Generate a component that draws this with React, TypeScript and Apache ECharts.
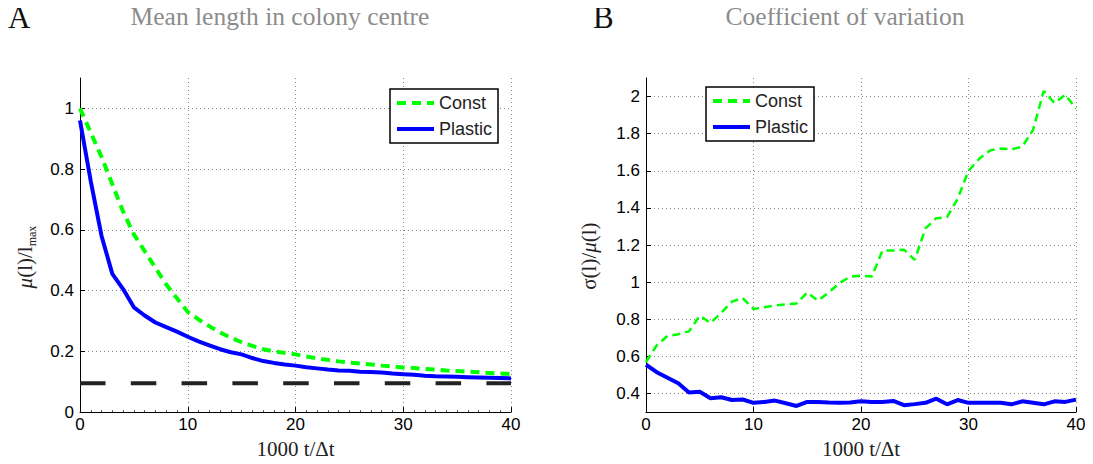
import React, { useEffect, useRef } from 'react';
import * as echarts from 'echarts';

const TIME = [0, 1, 2, 3, 4, 5, 6, 7, 8, 9, 10, 11, 12, 13, 14, 15, 16, 17, 18, 19, 20, 21, 22, 23, 24, 25, 26, 27, 28, 29, 30, 31, 32, 33, 34, 35, 36, 37, 38, 39, 40];

const MEAN_CONST = [1.0, 0.92, 0.84, 0.75, 0.66, 0.585, 0.53, 0.475, 0.42, 0.375, 0.33, 0.305, 0.283, 0.262, 0.245, 0.23, 0.218, 0.207, 0.2, 0.195, 0.19, 0.183, 0.177, 0.172, 0.167, 0.163, 0.16, 0.157, 0.153, 0.15, 0.147, 0.145, 0.142, 0.14, 0.137, 0.135, 0.133, 0.131, 0.129, 0.127, 0.125];
const MEAN_PLASTIC = [0.96, 0.76, 0.58, 0.455, 0.405, 0.345, 0.318, 0.295, 0.28, 0.265, 0.248, 0.233, 0.22, 0.207, 0.197, 0.19, 0.178, 0.168, 0.162, 0.157, 0.153, 0.148, 0.144, 0.14, 0.137, 0.136, 0.133, 0.132, 0.13, 0.127, 0.125, 0.123, 0.12, 0.118, 0.117, 0.116, 0.115, 0.114, 0.113, 0.112, 0.111];
const MEAN_LIMIT = 0.095;

const CV_CONST = [0.57, 0.66, 0.71, 0.72, 0.735, 0.82, 0.78, 0.835, 0.895, 0.915, 0.855, 0.865, 0.875, 0.88, 0.885, 0.945, 0.9, 0.945, 0.995, 1.03, 1.035, 1.03, 1.17, 1.17, 1.175, 1.12, 1.29, 1.345, 1.35, 1.45, 1.6, 1.665, 1.71, 1.72, 1.715, 1.73, 1.82, 2.03, 1.965, 2.01, 1.935];
const CV_PLASTIC = [0.555, 0.515, 0.485, 0.455, 0.405, 0.41, 0.375, 0.38, 0.365, 0.368, 0.35, 0.355, 0.362, 0.348, 0.333, 0.355, 0.355, 0.352, 0.35, 0.352, 0.358, 0.355, 0.355, 0.36, 0.337, 0.343, 0.35, 0.372, 0.342, 0.365, 0.35, 0.35, 0.35, 0.35, 0.342, 0.358, 0.35, 0.342, 0.358, 0.355, 0.367];

const X_MIN = 0;
const X_MAX = 40;
const X_STEP = 10;
const MEAN_Y_MIN = 0;
const MEAN_Y_MAX = 1.1;
const MEAN_Y_TICKS = [0, 0.2, 0.4, 0.6, 0.8, 1];
const CV_Y_MIN = 0.3;
const CV_Y_MAX = 2.1;
const CV_Y_TICKS = [0.4, 0.6, 0.8, 1, 1.2, 1.4, 1.6, 1.8, 2];

const SERIES_NAMES = ['Const', 'Plastic'];
const PANEL_LETTERS = ['A', 'B'];
const PANEL_TITLES = ['Mean length in colony centre', 'Coefficient of variation'];
const X_NAME = '1000 t/Δt';

const SANS = '"Liberation Sans", Arial, Helvetica, sans-serif';
const SERIF = '"Liberation Serif", "Times New Roman", serif';
const GREEN = '#00ff00';
const BLUE = '#0000ff';

const pairs = (ys: number[]) => TIME.map((t, i) => [t, ys[i]]);

export default function App() {
  const ref = useRef<HTMLDivElement>(null);
  useEffect(() => {
    if (!ref.current) return;
    const chart = echarts.init(ref.current, undefined, { renderer: 'svg' });

    const xAxisBase = (gridIndex: number, minor: boolean) => ({
      type: 'value',
      gridIndex,
      min: X_MIN,
      max: X_MAX,
      interval: X_STEP,
      name: X_NAME,
      nameLocation: 'middle',
      nameGap: 21,
      nameTextStyle: { fontFamily: SERIF, fontSize: 21, color: '#222' },
      axisLine: { show: true, lineStyle: { color: '#000', width: 1 } },
      axisTick: { show: true, inside: true, length: 5, lineStyle: { color: '#000' } },
      minorTick: { show: minor, splitNumber: 10, length: 2, lineStyle: { color: '#555' } },
      axisLabel: { fontFamily: SANS, fontSize: 17, color: '#000', margin: 4 },
      splitLine: { show: true, lineStyle: { color: '#888', width: 1, type: [1, 3] } },
    });

    const yAxisBase = (gridIndex: number, min: number, max: number, ticks: number[], name: string, gap: number, shift: number, rich: any) => ({
      type: 'value',
      gridIndex,
      min,
      max,
      name,
      nameLocation: 'middle',
      nameGap: gap,
      nameTextStyle: { fontFamily: SERIF, fontSize: 21, color: '#222', lineHeight: 26, rich, padding: [0, shift, 0, 0] },
      axisLine: { show: true, lineStyle: { color: '#000', width: 1 } },
      axisTick: { show: true, inside: true, length: 5, customValues: ticks, lineStyle: { color: '#000' } },
      axisLabel: { fontFamily: SANS, fontSize: 17, color: '#000', margin: 6, customValues: ticks },
      splitLine: { show: true, lineStyle: { color: '#888', width: 1, type: [1, 3] } },
    });

    const richBase = {
      it: { fontFamily: SERIF, fontSize: 21, fontStyle: 'italic', color: '#222', lineHeight: 26 },
      up: { fontFamily: SERIF, fontSize: 21, color: '#222', lineHeight: 26 },
      sub: { fontFamily: SERIF, fontSize: 12, color: '#222', lineHeight: 12, verticalAlign: 'bottom' },
    };

    const legendBase = (left: number, top: number) => ({
      left,
      top,
      orient: 'vertical',
      data: SERIES_NAMES,
      backgroundColor: '#fff',
      borderColor: '#000',
      borderWidth: 1.5,
      borderRadius: 0,
      padding: [5, 6, 5, 5],
      itemWidth: 37,
      itemHeight: 16,
      itemGap: 8,
      selectedMode: false,
      itemStyle: { opacity: 0 },
      lineStyle: { width: 4 },
      textStyle: { fontFamily: SANS, fontSize: 18, color: '#222', lineHeight: 16 },
    });

    const textGraphic = (x: number, y: number, text: string, size: number, color: string, align: string) => ({
      type: 'text',
      x,
      y,
      style: { text, fontFamily: SERIF, fontSize: size, fill: color, align, verticalAlign: 'middle' },
    });

    chart.setOption({
      animation: false,
      backgroundColor: '#fff',
      graphic: [
        textGraphic(8, 17, PANEL_LETTERS[0], 31, '#111', 'left'),
        textGraphic(280, 16, PANEL_TITLES[0], 25.5, '#8c8c8c', 'center'),
        textGraphic(593, 17, PANEL_LETTERS[1], 31, '#111', 'left'),
        textGraphic(845, 16, PANEL_TITLES[1], 25.5, '#8c8c8c', 'center'),
      ],
      grid: [
        { left: 80, right: 1093 - 511, top: 78, bottom: 464 - 413 },
        { left: 646, right: 1093 - 1076, top: 78, bottom: 464 - 413 },
      ],
      legend: [legendBase(390, 89), legendBase(706, 87)],
      xAxis: [xAxisBase(0, true), xAxisBase(1, false)],
      yAxis: [
        yAxisBase(0, MEAN_Y_MIN, MEAN_Y_MAX, MEAN_Y_TICKS, '{it|μ}{up|(l)/l}{sub|max}', 42, 24, richBase),
        yAxisBase(1, CV_Y_MIN, CV_Y_MAX, CV_Y_TICKS, '{up|σ(l)/}{it|μ}{up|(l)}', 44, 22, richBase),
      ],
      series: [
        {
          type: 'line', name: 'limit', xAxisIndex: 0, yAxisIndex: 0, symbol: 'none', silent: true,
          data: [[X_MIN, MEAN_LIMIT], [X_MAX, MEAN_LIMIT]],
          lineStyle: { color: '#222', width: 4, type: [25.5, 25.3] },
          z: 1,
        },
        {
          type: 'line', name: SERIES_NAMES[0], xAxisIndex: 0, yAxisIndex: 0, symbol: 'none',
          data: pairs(MEAN_CONST),
          lineStyle: { color: GREEN, width: 4, type: [9, 6] },
          itemStyle: { color: GREEN },
          z: 3,
        },
        {
          type: 'line', name: SERIES_NAMES[1], xAxisIndex: 0, yAxisIndex: 0, symbol: 'none',
          data: pairs(MEAN_PLASTIC),
          lineStyle: { color: BLUE, width: 4 },
          itemStyle: { color: BLUE },
          z: 2,
        },
        {
          type: 'line', name: SERIES_NAMES[0], xAxisIndex: 1, yAxisIndex: 1, symbol: 'none',
          data: pairs(CV_CONST),
          lineStyle: { color: GREEN, width: 2.5, type: [8, 5] },
          itemStyle: { color: GREEN },
          z: 3,
        },
        {
          type: 'line', name: SERIES_NAMES[1], xAxisIndex: 1, yAxisIndex: 1, symbol: 'none',
          data: pairs(CV_PLASTIC),
          lineStyle: { color: BLUE, width: 4 },
          itemStyle: { color: BLUE },
          z: 2,
        },
      ],
    });
    return () => chart.dispose();
  }, []);

  return <div ref={ref} style={{ width: 1093, height: 464, margin: -8 }} />;
}
